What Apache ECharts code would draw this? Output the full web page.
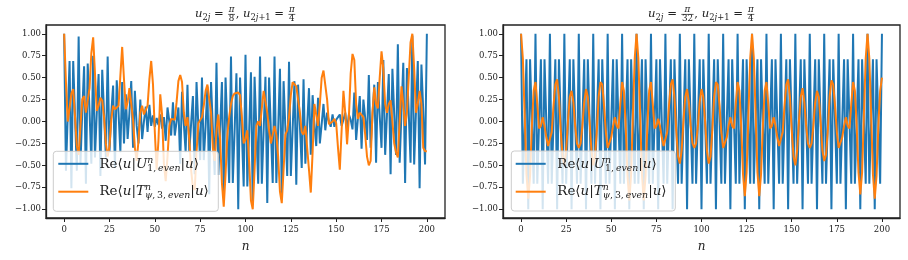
<!DOCTYPE html>
<html><head><meta charset="utf-8">
<script src="https://cdn.jsdelivr.net/npm/echarts@6/dist/echarts.min.js"></script>
<style>html,body{margin:0;padding:0;background:#fff}#c{width:908px;height:260px}</style>
</head><body><div id="c"></div>
<script>
const xTicks = [0, 25, 50, 75, 100, 125, 150, 175, 200];
const yTicks = [-1, -0.75, -0.5, -0.25, 0, 0.25, 0.5, 0.75, 1];

// Left panel (u_2j = pi/8): Re<u|U^n_{1,even}|u>
const leftBlue = [
 1.00,-0.56,0.08,0.69,-0.76,0.69,0.06,-0.56,
 0.97,-0.48,0.12,0.63,-0.71,0.66,0.12,-0.48,
 0.75,-0.41,0.10,0.54,-0.62,0.59,0.10,-0.41,
 0.74,-0.35,0.10,0.41,-0.53,0.47,0.10,-0.35,
 0.45,-0.25,0.31,-0.20,0.10,0.46,-0.30,0.35,
 -0.05,-0.25,0.25,-0.20,0.00,0.17,-0.12,0.19,
 -0.05,0.07,-0.06,0.04,-0.04,0.08,-0.08,0.05,
 -0.22,0.16,0.00,-0.16,0.22,-0.16,0.00,0.16,
 -0.48,0.34,-0.03,-0.35,0.42,-0.35,-0.03,0.29,
 -0.60,0.45,-0.05,-0.44,0.50,-0.44,-0.05,0.40,
 -0.83,0.45,-0.08,-0.61,0.67,-0.61,-0.08,0.45,
 -0.85,0.50,-0.10,-0.70,0.74,-0.70,-0.10,0.55,
 -1.00,0.50,-0.12,-0.74,0.76,-0.74,-0.12,0.56,
 -0.95,0.51,-0.10,-0.71,0.74,-0.71,-0.10,0.51,
 -0.93,0.50,-0.10,-0.70,0.74,-0.70,-0.10,0.60,
 -0.84,0.46,-0.08,-0.62,0.68,-0.62,-0.08,0.46,
 -0.72,0.42,-0.05,-0.53,0.48,-0.48,-0.05,0.38,
 -0.38,0.30,-0.03,-0.28,0.27,-0.25,-0.03,0.20,
 -0.10,0.10,0.00,-0.06,0.08,-0.06,0.02,0.05,
 0.08,-0.05,0.02,0.10,-0.10,0.08,0.02,-0.09,
 0.33,-0.21,0.04,0.29,-0.31,0.25,0.04,-0.21,
 0.53,-0.30,0.06,0.42,-0.47,0.45,0.06,-0.30,
 0.70,-0.38,0.08,0.54,-0.60,0.60,0.08,-0.38,
 0.88,-0.47,0.10,0.67,-0.70,0.61,0.10,-0.47,
 0.98,-0.49,0.12,0.69,-0.76,0.65,0.12,-0.49,
 1.00
];
// Left panel: Re<u|T^n_{psi,3,even}|u>
const leftOrange = [
 1.00,0.45,0.00,0.15,0.32,0.37,0.05,-0.28,
 -0.38,-0.05,0.25,0.29,0.10,0.12,0.38,0.78,
 0.96,0.55,0.12,0.18,0.27,0.24,0.05,-0.25,
 -0.40,-0.28,0.02,0.18,0.14,0.12,0.18,0.52,
 0.85,0.48,0.14,0.22,0.38,0.40,0.02,-0.30,
 -0.45,-0.22,0.10,0.18,0.08,0.06,0.18,0.48,
 0.69,0.42,-0.12,-0.55,-0.22,0.31,0.08,-0.48,
 -0.68,-0.40,-0.05,0.03,0.02,0.02,0.22,0.46,
 0.53,0.45,0.10,-0.05,0.05,-0.20,-0.55,-0.75,
 -0.78,-0.35,-0.02,0.00,0.05,0.18,0.35,0.42,
 0.40,0.10,-0.30,-0.45,-0.10,0.08,-0.20,-0.70,
 -0.97,-0.60,-0.15,0.05,0.20,0.29,0.32,0.33,
 0.33,0.30,0.05,-0.25,-0.20,-0.10,-0.45,-0.90,
 -1.00,-0.55,-0.05,0.00,-0.05,0.15,0.35,0.37,
 0.10,-0.10,-0.25,-0.15,-0.05,-0.15,-0.40,-0.80,
 -0.93,-0.55,-0.15,-0.10,0.05,0.30,0.45,0.46,
 0.40,0.25,0.10,-0.12,-0.15,-0.05,-0.05,-0.55,
 -0.81,-0.35,0.20,0.22,-0.05,0.20,0.50,0.58,
 0.60,0.25,-0.03,-0.05,0.00,0.03,-0.02,-0.30,
 -0.55,-0.10,0.35,0.10,-0.26,0.05,0.55,0.77,
 0.70,0.20,0.03,0.10,0.12,0.05,-0.15,-0.40,
 -0.50,-0.45,0.10,0.39,0.20,0.15,0.50,0.80,
 0.60,0.20,0.10,0.20,0.24,0.00,-0.25,-0.35,
 -0.41,0.00,0.40,0.20,-0.05,0.10,0.50,0.90,
 1.00,0.60,0.10,0.20,0.35,0.20,-0.30,-0.34,
 -0.34
];
// Right panel (u_2j = pi/32): Re<u|U^n_{1,even}|u>
const rightBlue = [
 1,-0.71,0,0.71,-1,0.71,0,-0.71, 1,-0.71,0,0.71,-1,0.71,0,-0.71,
 1,-0.71,0,0.71,-1,0.71,0,-0.71, 1,-0.71,0,0.71,-1,0.71,0,-0.71,
 1,-0.71,0,0.71,-1,0.71,0,-0.71, 1,-0.71,0,0.71,-1,0.71,0,-0.71,
 1,-0.71,0,0.71,-1,0.71,0,-0.71, 1,-0.71,0,0.71,-1,0.71,0,-0.71,
 1,-0.71,0,0.71,-1,0.71,0,-0.71, 1,-0.71,0,0.71,-1,0.71,0,-0.71,
 1,-0.71,0,0.71,-1,0.71,0,-0.71, 1,-0.71,0,0.71,-1,0.71,0,-0.71,
 1,-0.71,0,0.71,-1,0.71,0,-0.71, 1,-0.71,0,0.71,-1,0.71,0,-0.71,
 1,-0.71,0,0.71,-1,0.71,0,-0.71, 1,-0.71,0,0.71,-1,0.71,0,-0.71,
 1,-0.71,0,0.71,-1,0.71,0,-0.71, 1,-0.71,0,0.71,-1,0.71,0,-0.71,
 1,-0.71,0,0.71,-1,0.71,0,-0.71, 1,-0.71,0,0.71,-1,0.71,0,-0.71,
 1,-0.71,0,0.71,-1,0.71,0,-0.71, 1,-0.71,0,0.71,-1,0.71,0,-0.71,
 1,-0.71,0,0.71,-1,0.71,0,-0.71, 1,-0.71,0,0.71,-1,0.71,0,-0.71,
 1,-0.71,0,0.71,-1,0.71,0,-0.71,
 1
];
// Right panel: Re<u|T^n_{psi,3,even}|u>
const rightOrange = [
 1.00,0.72,0.08,-0.60,-0.88,-0.62,-0.05,0.35,
 0.45,0.20,-0.08,-0.05,0.05,-0.05,-0.18,-0.28,
 -0.30,-0.12,0.18,0.42,0.48,0.28,-0.10,-0.40,
 -0.50,-0.33,0.00,0.28,0.35,0.22,-0.05,-0.25,
 -0.30,-0.25,-0.05,0.22,0.37,0.28,0.00,-0.33,
 -0.50,-0.40,-0.10,0.28,0.45,0.42,0.18,-0.12,
 -0.30,-0.28,-0.18,-0.05,0.05,-0.05,-0.08,0.20,
 0.45,0.35,-0.05,-0.62,-0.90,-0.60,0.08,0.72,
 1.00,0.72,0.08,-0.60,-0.90,-0.62,-0.05,0.35,
 0.45,0.20,-0.08,-0.05,0.03,-0.05,-0.18,-0.28,
 -0.30,-0.12,0.18,0.42,0.48,0.28,-0.10,-0.40,
 -0.48,-0.33,0.00,0.28,0.37,0.22,-0.05,-0.25,
 -0.30,-0.25,-0.05,0.22,0.37,0.28,0.00,-0.33,
 -0.48,-0.40,-0.10,0.28,0.45,0.42,0.18,-0.12,
 -0.30,-0.28,-0.18,-0.05,0.05,-0.05,-0.08,0.20,
 0.45,0.35,-0.05,-0.60,-0.85,-0.58,0.08,0.72,
 1.00,0.72,0.08,-0.58,-0.85,-0.60,-0.05,0.35,
 0.45,0.20,-0.08,-0.05,0.05,-0.05,-0.18,-0.28,
 -0.30,-0.12,0.18,0.42,0.48,0.28,-0.10,-0.40,
 -0.50,-0.33,0.00,0.28,0.38,0.22,-0.05,-0.25,
 -0.30,-0.25,-0.05,0.22,0.35,0.28,0.00,-0.33,
 -0.45,-0.38,-0.10,0.28,0.47,0.42,0.18,-0.12,
 -0.30,-0.28,-0.18,-0.05,0.05,-0.05,-0.08,0.20,
 0.45,0.35,-0.05,-0.58,-0.83,-0.58,0.08,0.72,
 1.00,0.72,0.08,-0.60,-0.88,-0.62,-0.05,0.35,0.50
];

const BLUE = '#1f77b4', ORANGE = '#ff7f0e', INK = '#222222';
const FAM = '"DejaVu Serif", "Liberation Serif", serif';

const panels = [
  {grid: {left: 46, top: 25, width: 399, height: 193}, blue: leftBlue, orange: leftOrange,
   title: '8', titleW: 101, legend: {x: 53.3, y: 151.3, w: 165, h: 60, lx: 58.3, tx: 99.5}},
  {grid: {left: 503, top: 25, width: 397, height: 193}, blue: rightBlue, orange: rightOrange,
   title: '32', titleW: 107, legend: {x: 511.3, y: 151, w: 164, h: 60, lx: 515.7, tx: 557.3}}
];

// ---------- math-like text layout helpers ----------
const mc = document.createElement('canvas').getContext('2d');
function fstr(p, s) { return (p.it ? 'italic ' : '') + s.toFixed(2) + 'px ' + FAM; }
function tw(t, f) { mc.font = f; return mc.measureText(t).width; }
function txt(t, font, x, y, align) {
  return {type: 'text', z: 100, silent: true,
    style: {text: t, font: font, x: x, y: y, fill: INK, align: align, textAlign: align,
            verticalAlign: 'middle', textVerticalAlign: 'middle'}};
}
function runMath(items, base, x0, y, out) {
  let x = x0;
  for (const it of items) {
    if (it.frac) {
      const s = base * it.r;
      const f1 = fstr(it.frac[0], s), f2 = fstr(it.frac[1], s);
      const W = Math.max(tw(it.frac[0].t, f1), tw(it.frac[1].t, f2)) + base * 0.22;
      if (out) {
        out.push(txt(it.frac[0].t, f1, x + W / 2, y + it.nd * base, 'center'));
        out.push(txt(it.frac[1].t, f2, x + W / 2, y + it.dd * base, 'center'));
        out.push({type: 'line', z: 100, silent: true,
          shape: {x1: x + base * 0.06, y1: y + it.bd * base, x2: x + W - base * 0.06, y2: y + it.bd * base},
          style: {stroke: INK, lineWidth: 0.7}});
      }
      x += W;
    } else if (it.stack) {
      let xa = x, xb = x;
      for (const p of it.stack[0]) { const f = fstr(p, base * p.r); if (out) out.push(txt(p.t, f, xa, y + it.sup * base, 'left')); xa += tw(p.t, f); }
      for (const p of it.stack[1]) { const f = fstr(p, base * p.r); if (out) out.push(txt(p.t, f, xb, y + it.sub * base, 'left')); xb += tw(p.t, f); }
      x = Math.max(xa, xb);
    } else {
      const f = fstr(it, base * (it.r || 1));
      if (out) out.push(txt(it.t, f, x, y, 'left'));
      x += tw(it.t, f);
    }
  }
  return x - x0;
}
function titleItems(den) {
  const sub1 = [{t: '2', r: .72}, {t: 'j', it: 1, r: .72}];
  const sub2 = [{t: '2', r: .72}, {t: 'j', it: 1, r: .72}, {t: '+1', r: .72}];
  const fr = d => ({frac: [{t: 'π', it: 1}, {t: d}], r: .75, nd: -0.36, dd: 0.48, bd: 0.07});
  return [{t: 'u', it: 1}, {stack: [[], sub1], sup: 0, sub: 0.35}, {t: ' = '}, fr(den), {t: ', '},
          {t: 'u', it: 1}, {stack: [[], sub2], sup: 0, sub: 0.35}, {t: ' = '}, fr('4')];
}
const th = '\u2009';
const legRow1 = [{t: 'Re'}, {t: '⟨'}, {t: 'u', it: 1}, {t: '|'}, {t: 'U', it: 1},
  {stack: [[{t: 'n', it: 1, r: .7}], [{t: '1,', r: .7}, {t: th, r: .7}, {t: 'even', it: 1, r: .7}]], sup: -0.33, sub: 0.28},
  {t: '|'}, {t: 'u', it: 1}, {t: '⟩'}];
const legRow2 = [{t: 'Re'}, {t: '⟨'}, {t: 'u', it: 1}, {t: '|'}, {t: 'T', it: 1},
  {stack: [[{t: 'n', it: 1, r: .7}], [{t: 'ψ', it: 1, r: .7}, {t: ',', r: .7}, {t: th, r: .7}, {t: '3,', r: .7}, {t: th, r: .7}, {t: 'even', it: 1, r: .7}]], sup: -0.33, sub: 0.3},
  {t: '|'}, {t: 'u', it: 1}, {t: '⟩'}];

const graphics = [];
const legBase = 14 * 99.5 / runMath(legRow1, 14, 0, 0, null);
panels.forEach(P => {
  const g = P.grid, cx = g.left + g.width / 2;
  const items = titleItems(P.title);
  const tb = 10 * P.titleW / runMath(items, 10, 0, 0, null);
  const W = runMath(items, tb, 0, 0, null);
  runMath(items, tb, cx - W / 2, 13.6, graphics);
  graphics.push(txt('n', 'italic 12px ' + FAM, cx, 247, 'center'));
  const L = P.legend;
  graphics.push({type: 'rect', z: 99, silent: true, shape: {x: L.x, y: L.y, width: L.w, height: L.h, r: 3},
    style: {fill: 'rgba(255,255,255,0.8)', stroke: '#cccccc', lineWidth: 1}});
  graphics.push({type: 'line', z: 100, silent: true, shape: {x1: L.lx, y1: 163.8, x2: L.lx + 30, y2: 163.8}, style: {stroke: BLUE, lineWidth: 2}});
  graphics.push({type: 'line', z: 100, silent: true, shape: {x1: L.lx, y1: 191.7, x2: L.lx + 30, y2: 191.7}, style: {stroke: ORANGE, lineWidth: 2}});
  runMath(legRow1, legBase, L.tx, 164.5, graphics);
  runMath(legRow2, legBase, L.tx, 191.5, graphics);
});

const fmt = v => (Math.abs(v) < 1e-9 ? 0 : v).toFixed(2).replace('-', '\u2212');
const grids = [], xAxes = [], yAxes = [], series = [];
panels.forEach((P, i) => {
  grids.push(Object.assign({show: true, borderColor: INK, borderWidth: 1.3, backgroundColor: 'transparent', containLabel: false}, P.grid));
  xAxes.push({type: 'value', gridIndex: i, min: -10, max: 210,
    axisLine: {show: true, onZero: false, lineStyle: {color: INK, width: 1.3}},
    splitLine: {show: false},
    axisTick: {show: true, inside: false, length: 4, lineStyle: {color: INK, width: 1}, customValues: xTicks},
    axisLabel: {show: true, customValues: xTicks, margin: 7, fontFamily: FAM, fontSize: 8.5, color: INK}});
  yAxes.push({type: 'value', gridIndex: i, min: -1.1, max: 1.1,
    axisLine: {show: true, onZero: false, lineStyle: {color: INK, width: 1.3}},
    splitLine: {show: false},
    axisTick: {show: true, inside: false, length: 4, lineStyle: {color: INK, width: 1}, customValues: yTicks},
    axisLabel: {show: true, customValues: yTicks, margin: 5, fontFamily: FAM, fontSize: 8.5, color: INK, formatter: fmt}});
  series.push({type: 'line', name: 'U', xAxisIndex: i, yAxisIndex: i, data: P.blue.map((v, n) => [n, v]),
    symbol: 'none', showSymbol: false, lineStyle: {color: BLUE, width: 2}, z: 2, silent: true});
  series.push({type: 'line', name: 'T', xAxisIndex: i, yAxisIndex: i, data: P.orange.map((v, n) => [n, v]),
    symbol: 'none', showSymbol: false, lineStyle: {color: ORANGE, width: 2}, z: 3, silent: true});
});

const chart = echarts.init(document.getElementById('c'), null, {renderer: 'canvas'});
chart.setOption({animation: false, backgroundColor: '#ffffff', grid: grids, xAxis: xAxes, yAxis: yAxes,
  series: series, graphic: {elements: graphics}});
</script>
</body></html>
